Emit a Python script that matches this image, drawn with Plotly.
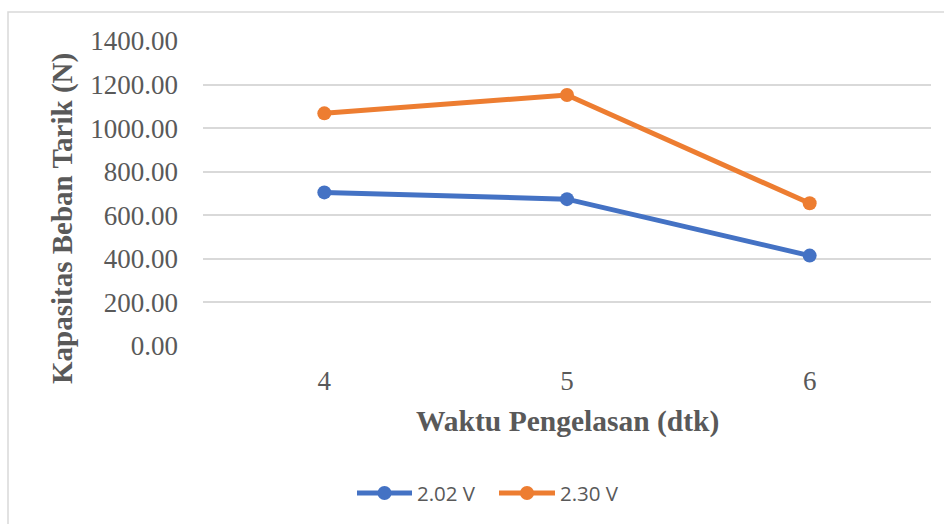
import plotly.graph_objects as go

# Welding time (seconds) and tensile load capacity (N) per voltage setting
waktu = [4, 5, 6]
series_names = ["2.02 V", "2.30 V"]
beban_202 = [705, 674, 415]
beban_230 = [1068, 1152, 655]
y_ticks = [0, 200, 400, 600, 800, 1000, 1200, 1400]

colors = ["#4472C4", "#ED7D31"]
serif = "Liberation Serif, Times New Roman, serif"
sans = "Open Sans, Liberation Sans, sans-serif"
grey = "#595959"

# plot-area geometry in pixels
W, H = 944, 524
L, R, T, B = 203, 13, 41, 178
pw, ph = W - L - R, H - T - B


def px_x(x):
    return (x - L) / pw


def px_y(y):
    return (H - B - y) / ph


fig = go.Figure()
for name, vals, col in zip(series_names, [beban_202, beban_230], colors):
    fig.add_trace(go.Scatter(
        x=waktu, y=vals, name=name, mode="lines+markers",
        line=dict(color=col, width=5),
        marker=dict(color=col, size=14),
        showlegend=False,
    ))

# legend drawn with shapes and text beneath the axis title
shapes = [
    dict(type="rect", xref="paper", yref="paper",
         x0=px_x(8), x1=px_x(948), y0=px_y(530), y1=px_y(12),
         line=dict(color="#d9d9d9", width=1.5), fillcolor="rgba(0,0,0,0)",
         layer="below"),
]
annotations = [
    dict(text="<b>Waktu Pengelasan (dtk)</b>", xref="paper", yref="paper",
         x=0.5, y=px_y(421), xanchor="center", yanchor="middle",
         showarrow=False, font=dict(family=serif, size=29.5, color=grey)),
    dict(text="<b>Kapasitas Beban Tarik (N)</b>", xref="paper", yref="paper",
         x=px_x(62), y=px_y(219), xanchor="center", yanchor="middle",
         textangle=-90, showarrow=False,
         font=dict(family=serif, size=29, color=grey)),
]
leg_y = 493
for (x0, x1, tx), name, col in zip([(357, 412, 415), (499, 555, 558)],
                                   series_names, colors):
    shapes.append(dict(type="line", xref="paper", yref="paper",
                       x0=px_x(x0), x1=px_x(x1), y0=px_y(leg_y), y1=px_y(leg_y),
                       line=dict(color=col, width=5)))
    shapes.append(dict(type="circle", xref="paper", yref="paper",
                       xsizemode="pixel", ysizemode="pixel",
                       xanchor=px_x((x0 + x1) / 2), yanchor=px_y(leg_y),
                       x0=-7, x1=7, y0=-7, y1=7,
                       line=dict(color=col, width=0), fillcolor=col))
    annotations.append(dict(text=name, xref="paper", yref="paper",
                            x=px_x(tx), y=px_y(leg_y), xanchor="left",
                            yanchor="middle", showarrow=False,
                            font=dict(family=sans, size=20.5, color=grey)))

fig.update_layout(
    width=W, height=H,
    margin=dict(l=L, r=R, t=T, b=B),
    paper_bgcolor="white", plot_bgcolor="white",
    showlegend=False,
    xaxis=dict(
        range=[3.5, 6.5], tickvals=waktu, ticktext=[str(v) for v in waktu],
        showgrid=False, zeroline=False, showline=False, ticks="",
        ticklabelstandoff=16,
        tickfont=dict(family=serif, size=27, color=grey),
    ),
    yaxis=dict(
        range=[0, 1400], tickvals=y_ticks,
        ticktext=[f"{v:.2f}" for v in y_ticks],
        showgrid=True, gridcolor="#d9d9d9", gridwidth=1.5,
        zeroline=False, showline=False, ticks="",
        ticklabelstandoff=24,
        tickfont=dict(family=serif, size=27, color=grey),
    ),
    annotations=annotations,
    shapes=shapes,
)

fig.write_html("out.html")
